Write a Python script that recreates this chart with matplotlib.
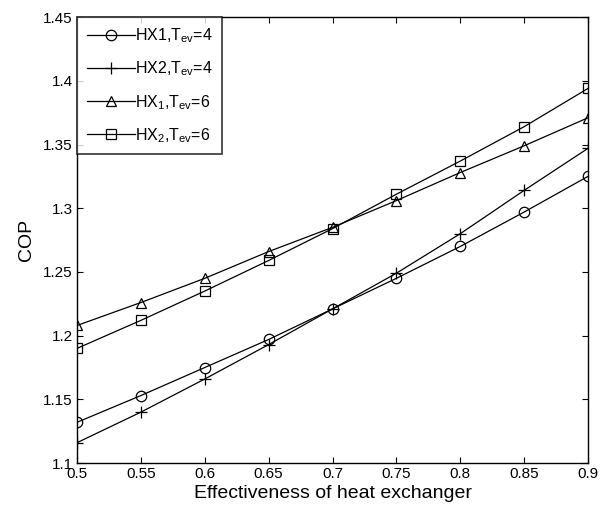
import matplotlib
matplotlib.use("Agg")
import matplotlib.pyplot as plt

plt.rcParams['font.family'] = ['Liberation Sans', 'DejaVu Sans']
plt.rcParams['mathtext.fontset'] = 'custom'
plt.rcParams['mathtext.rm'] = 'Liberation Sans'
plt.rcParams['mathtext.it'] = 'Liberation Sans'

x = [0.5, 0.55, 0.6, 0.65, 0.7, 0.75, 0.8, 0.85, 0.9]
hx1_t4 = [1.132, 1.153, 1.175, 1.197, 1.221, 1.245, 1.270, 1.297, 1.325]
hx2_t4 = [1.116, 1.140, 1.166, 1.193, 1.221, 1.249, 1.280, 1.314, 1.347]
hx1_t6 = [1.208, 1.226, 1.245, 1.266, 1.285, 1.306, 1.328, 1.349, 1.371]
hx2_t6 = [1.190, 1.212, 1.235, 1.259, 1.284, 1.311, 1.337, 1.364, 1.394]
labels = [r'HX1,T$_{\mathrm{ev}}$=4', r'HX2,T$_{\mathrm{ev}}$=4',
          r'HX$_{\mathrm{1}}$,T$_{\mathrm{ev}}$=6', r'HX$_{\mathrm{2}}$,T$_{\mathrm{ev}}$=6']
xticks = [0.5, 0.55, 0.6, 0.65, 0.7, 0.75, 0.8, 0.85, 0.9]
yticks = [1.1, 1.15, 1.2, 1.25, 1.3, 1.35, 1.4, 1.45]

fig = plt.figure(figsize=(6.04, 5.18), dpi=100)
ax = fig.add_axes([0.1275, 0.106, 0.846, 0.861])

ms = 7.5
ax.plot(x, hx1_t4, color='black', lw=0.9, marker='o', mfc='none', mec='black', ms=ms, mew=0.9, label=labels[0])
ax.plot(x, hx2_t4, color='black', lw=0.9, marker='+', ms=ms + 1, mew=0.9, label=labels[1])
ax.plot(x, hx1_t6, color='black', lw=0.9, marker='^', mfc='none', mec='black', ms=ms, mew=0.9, label=labels[2])
ax.plot(x, hx2_t6, color='black', lw=0.9, marker='s', mfc='none', mec='black', ms=ms - 0.5, mew=0.9, label=labels[3])

ax.set_xlim(0.5, 0.9)
ax.set_ylim(1.1, 1.45)
ax.set_xticks(xticks)
ax.set_xticklabels([f'{v:g}' for v in xticks])
ax.set_yticks(yticks)
ax.set_yticklabels([f'{v:g}' for v in yticks])
ax.tick_params(direction='in', top=True, right=True, labelsize=11, length=4, width=0.8, pad=3)
for s in ax.spines.values():
    s.set_linewidth(1.0)

ax.set_xlabel('Effectiveness of heat exchanger', fontsize=14, labelpad=3)
ax.set_ylabel('COP', fontsize=14, labelpad=6)

leg = ax.legend(loc='upper left', borderaxespad=0, fontsize=11.5, frameon=True,
                fancybox=False, edgecolor='black', handlelength=3.0, handletextpad=0.0,
                labelspacing=0.9, borderpad=0.6)
leg.get_frame().set_linewidth(1.2)

fig.savefig('out.png', dpi=100)
